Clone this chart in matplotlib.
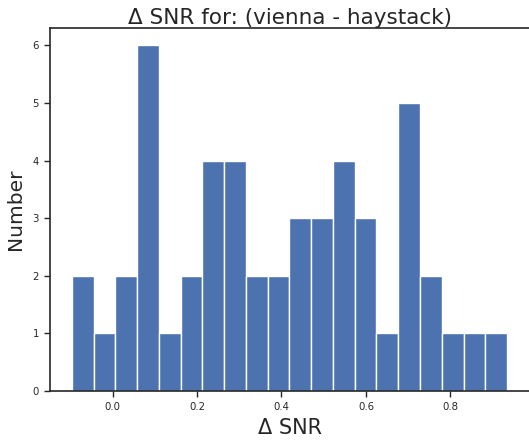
import numpy as np
import matplotlib
matplotlib.use("Agg")
from matplotlib import pyplot as plt

# histogram counts, 20 equal bins
counts = [2, 1, 2, 6, 1, 2, 4, 4, 2, 2, 3, 3, 4, 3, 1, 5, 2, 1, 1, 1]
bin_lo, bin_hi = -0.0962, 0.934
xticks = [0.0, 0.2, 0.4, 0.6, 0.8]
yticks = [0, 1, 2, 3, 4, 5, 6]

edges = np.linspace(bin_lo, bin_hi, len(counts) + 1)

plt.rcParams['font.family'] = ['DejaVu Sans']
fig = plt.figure(figsize=(5.29, 4.41), dpi=100)
# axes runs a little past the right edge, like the original (right spine cut off)
ax = fig.add_axes([50 / 529, 1 - 391 / 441, 1 - 50 / 529, (391 - 28) / 441])

ax.hist(edges[:-1], bins=edges, weights=counts, color='#4C72B0',
        edgecolor='white', linewidth=1.0)

ax.set_ylim(0, 6.3)
ax.set_xlim(-0.148, 0.986)
ax.set_xticks(xticks)
ax.set_yticks(yticks)

dark = '#262626'
for s in ax.spines.values():
    s.set_color(dark)
    s.set_linewidth(1.2)
ax.spines['right'].set_visible(False)
ax.tick_params(colors=dark, labelsize=7.3, length=4.5, width=1.0)

ax.set_title('Δ SNR for: (vienna - haystack)', fontsize=15.5, color=dark, pad=3)
ax.set_xlabel('Δ SNR', fontsize=15, color=dark, labelpad=4)
ax.set_ylabel('Number', fontsize=14.5, color=dark, labelpad=5)

fig.savefig('out.png', dpi=100)
